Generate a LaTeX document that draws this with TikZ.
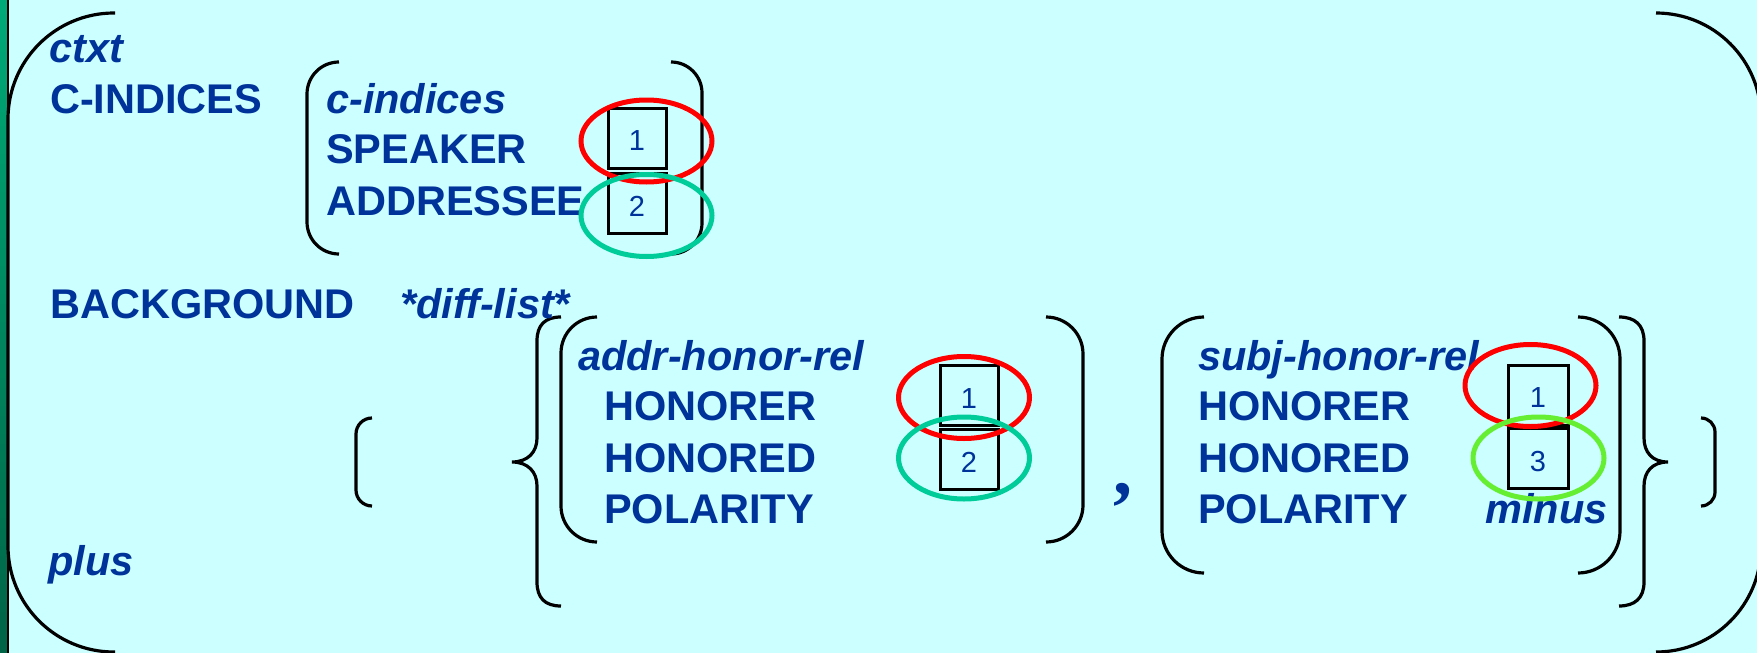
\documentclass[tikz,border=0pt]{standalone}
\usepackage{fontspec}
\setmainfont{Liberation Sans}
\newfontfamily\serifcomma{Liberation Serif}
\usetikzlibrary{shapes.geometric}
\definecolor{bg}{RGB}{204,255,255}
\definecolor{ink}{RGB}{0,51,153}
\definecolor{tagred}{RGB}{255,0,0}
\definecolor{tagteal}{RGB}{0,204,153}
\definecolor{taglime}{RGB}{102,238,51}
\definecolor{stripetop}{RGB}{0,170,120}
\definecolor{stripebot}{RGB}{0,100,70}

\begin{document}
\begin{tikzpicture}[x=1pt,y=-1pt,
  attr/.style={anchor=base west, inner sep=0pt, text=ink,
    font=\fontsize{41.5}{50}\selectfont\bfseries},
  typ/.style={attr, font=\fontsize{41.5}{50}\selectfont\bfseries\itshape},
  tagbox/.style={draw=black, line width=3pt, minimum width=58pt,
    minimum height=60pt, inner sep=0pt},
  tagnum/.style={inner sep=0pt, text=ink, font=\fontsize{29}{30}\selectfont},
  brk/.style={draw=black, line width=3.2pt},
  ring/.style={ellipse, line width=5pt, minimum width=131pt,
    minimum height=82pt, inner sep=0pt},
]
\useasboundingbox (0,0) rectangle (1757,653);
\clip (0,0) rectangle (1757,653);

% slide background and left border strip
\fill[bg] (0,0) rectangle (1757,653);
\shade[top color=stripetop, bottom color=stripebot] (0,0) rectangle (7,653);
\draw[black, line width=2pt] (7.5,0) -- (7.5,653);

% outer AVM brackets
\draw[brk, rounded corners=106pt] (115,13) -- (8,13) -- (8,652) -- (115,652);
\draw[brk, rounded corners=105pt] (1656,13) -- (1761,13) -- (1761,652) -- (1656,652);

% c-indices brackets
\draw[brk, rounded corners=32pt] (339,62) -- (307,62) -- (307,254) -- (339,254);
\draw[brk, rounded corners=31pt] (671,62) -- (702,62) -- (702,254) -- (671,254);

% list brackets
\draw[brk, rounded corners=16pt] (372,418) -- (356,418) -- (356,506) -- (372,506);
\draw[brk, rounded corners=14pt] (1701,418) -- (1715,418) -- (1715,506) -- (1701,506);

% set braces
\draw[brk] (561,317) .. controls (545,317) and (537,325) .. (537,341) -- (537,438)
  .. controls (537,452) and (528,462) .. (512,462)
  .. controls (528,462) and (537,472) .. (537,486) -- (537,582)
  .. controls (537,598) and (545,606) .. (561,606);
\draw[brk] (1619,317) .. controls (1635,317) and (1644,325) .. (1644,341) -- (1644,438)
  .. controls (1644,452) and (1652,462) .. (1668,462)
  .. controls (1652,462) and (1644,472) .. (1644,486) -- (1644,582)
  .. controls (1644,598) and (1635,606) .. (1619,606);

% relation brackets
\draw[brk, rounded corners=36pt] (597,317) -- (561,317) -- (561,542) -- (597,542);
\draw[brk, rounded corners=37pt] (1046,317) -- (1083,317) -- (1083,542) -- (1046,542);
\draw[brk, rounded corners=42pt] (1204,317) -- (1162,317) -- (1162,573) -- (1204,573);
\draw[brk, rounded corners=42pt] (1578,317) -- (1620,317) -- (1620,573) -- (1578,573);

% features and types
\node[typ]  (ctxt)  at (49,62)   {ctxt};
\node[attr] (cind)  at (50,113)  {C-INDICES};
\node[typ]  (cindt) at (326,113) {c-indices};
\node[attr] (spk)   at (326,163) {SPEAKER};
\node[attr] (adr)   at (326,215) {ADDRESSEE};
\node[attr] (bgr)   at (50,318)  {BACKGROUND};
\node[typ]  (dlist) at (400,318) {*diff-list*};
\node[typ]  (ahr)   at (578,370) {addr-honor-rel};
\node[attr] (ahon)  at (604,420) {HONORER};
\node[attr] (ahod)  at (604,472) {HONORED};
\node[attr] (apol)  at (604,523) {POLARITY};
\node[typ]  (shr)   at (1198,370) {subj-honor-rel};
\node[attr] (shon)  at (1198,420) {HONORER};
\node[attr] (shod)  at (1198,472) {HONORED};
\node[attr] (spol)  at (1198,523) {POLARITY};
\node[typ]  (minus) at (1485,523) {minus};
\node[typ]  (plus)  at (48,575)  {plus};
\node[anchor=base west, inner sep=0pt, text=ink,
  font=\fontsize{76}{76}\selectfont\serifcomma\bfseries] (comma) at (1113,494) {,};

% structure-sharing tags
\node[tagbox] (u1) at (637,138) {};
\node[tagbox] (u2) at (637,203) {};
\node[tagbox] (a1) at (969,395.5) {};
\node[tagbox] (a2) at (969,459) {};
\node[tagbox, minimum width=60pt] (s1) at (1538,395) {};
\node[tagbox, minimum width=60pt] (s2) at (1538,458.5) {};
\node[tagnum] (u1n) at ([yshift=-3pt]u1.center) {1};
\node[tagnum] (u2n) at ([yshift=-3pt]u2.center) {2};
\node[tagnum] (a1n) at ([yshift=-3pt]a1.center) {1};
\node[tagnum] (a2n) at ([yshift=-3pt]a2.center) {2};
\node[tagnum] (s1n) at ([yshift=-3pt]s1.center) {1};
\node[tagnum] (s2n) at ([yshift=-3pt]s2.center) {3};

% highlighting rings
\node[ring, draw=tagred]  (ur) at (646.5,141) {};
\node[ring, draw=tagteal] (ut) at (646.5,215.5) {};
\node[ring, draw=tagred]  (ar) at (964,397.5) {};
\node[ring, draw=tagteal] (at) at (964,458) {};
\node[ring, draw=tagred]  (sr) at (1530.5,385.5) {};
\node[ring, draw=taglime] (sl) at (1538.5,458) {};
\end{tikzpicture}
\end{document}
